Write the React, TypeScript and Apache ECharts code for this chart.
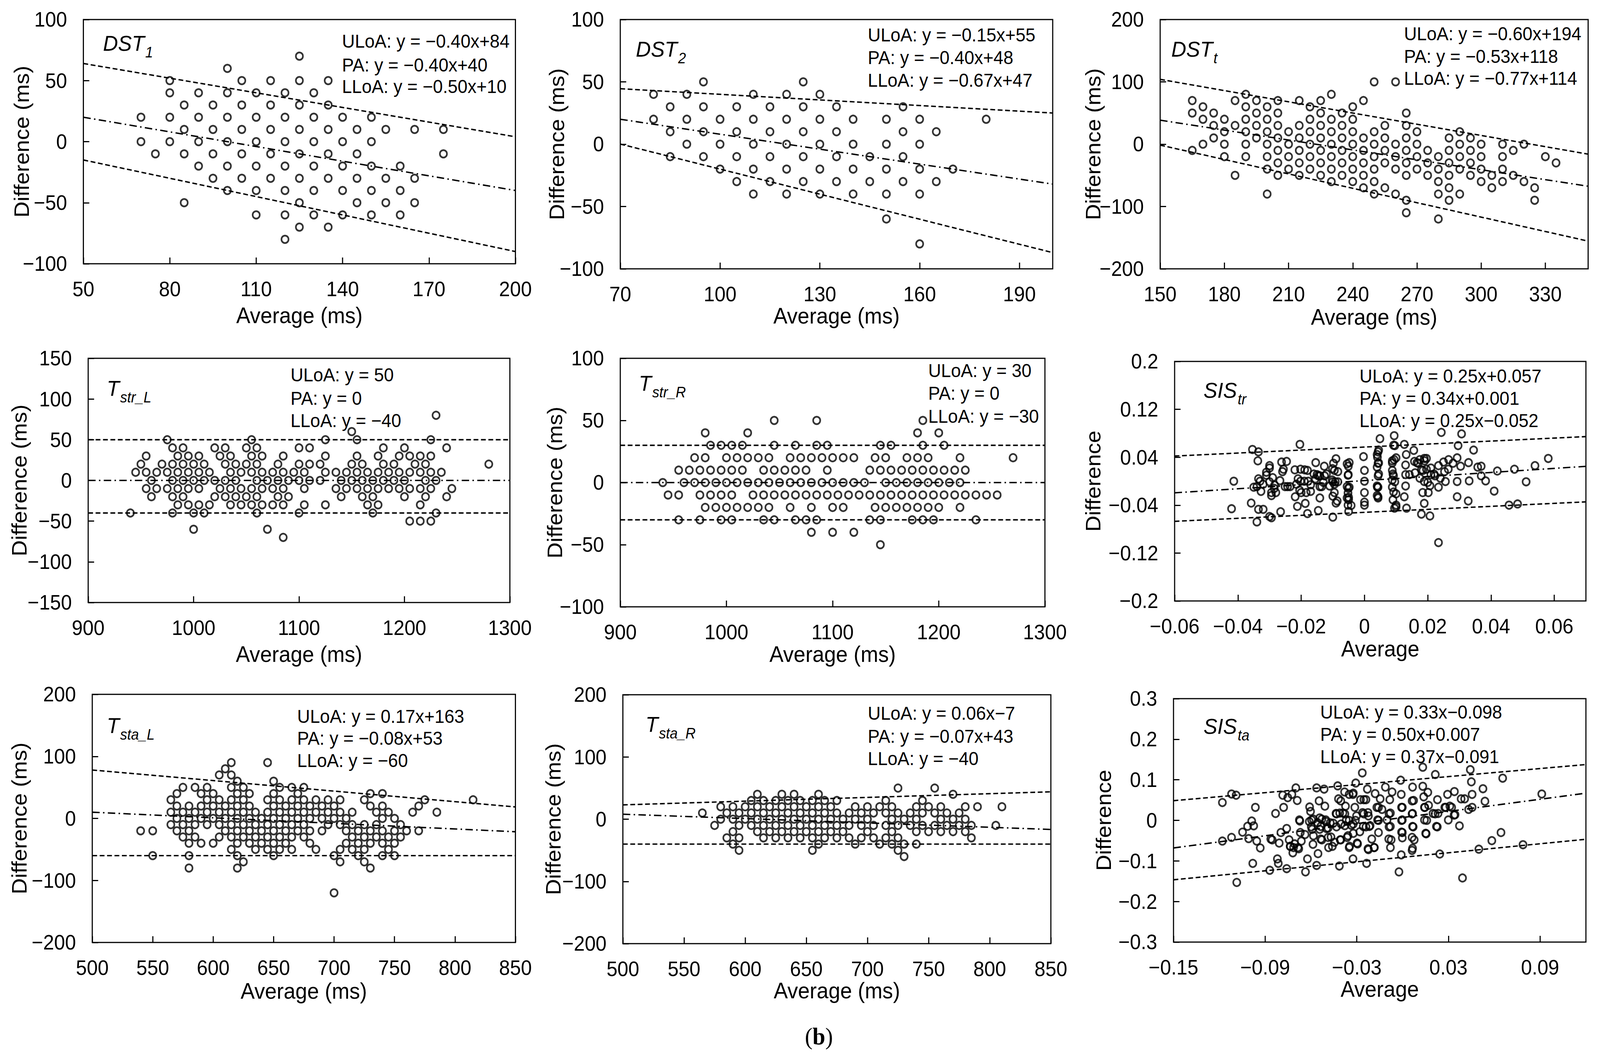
import React, { useEffect, useRef } from "react";
import * as echarts from "echarts";

const W = 4318;
const H = 2700;
const FONT = '"Liberation Sans", Arial, sans-serif';

// ---------- data ----------
type Group = [number, number[]];

// rows: [difference, averages[]]
const dst1Rows: Group[] = [
  [70, [125]], [60, [100]],
  [50, [80, 105, 115, 125, 135]],
  [40, [80, 90, 100, 110, 120, 130]],
  [30, [85, 95, 105, 115, 125, 135]],
  [20, [70, 80, 90, 100, 110, 120, 130, 140, 150]],
  [10, [85, 95, 105, 115, 125, 135, 145, 155, 165, 175]],
  [0, [70, 80, 90, 100, 110, 120, 130, 140, 150]],
  [-10, [75, 85, 95, 105, 115, 125, 135, 145, 175]],
  [-20, [90, 100, 110, 120, 130, 140, 150, 160]],
  [-30, [95, 105, 115, 125, 135, 145, 155, 165]],
  [-40, [100, 110, 120, 130, 140, 150, 160]],
  [-50, [85, 125, 145, 155, 165]],
  [-60, [110, 120, 130, 140, 150, 160]],
  [-70, [125, 135]], [-80, [120]],
];

const dst2Rows: Group[] = [
  [50, [95, 125]],
  [40, [80, 90, 110, 120, 130]],
  [30, [85, 95, 105, 115, 125, 135, 155]],
  [20, [80, 90, 100, 110, 120, 130, 140, 150, 160, 180]],
  [10, [85, 95, 105, 115, 125, 135, 155, 165]],
  [0, [90, 100, 110, 120, 130, 140, 150, 160]],
  [-10, [85, 95, 105, 115, 125, 135, 145, 155]],
  [-20, [100, 110, 120, 130, 140, 150, 160, 170]],
  [-30, [105, 115, 125, 135, 145, 155, 165]],
  [-40, [110, 120, 130, 140, 150, 160]],
  [-60, [150]], [-80, [160]],
];

// cols: [average, differences[]]
const dsttCols: Group[] = [
  [165, [70, 50, -10]], [170, [60, 40, 0]], [175, [50, 30, 10]], [180, [40, 20, 0, -20]],
  [185, [70, 30, -50]], [190, [80, 60, 40, 20, 0, -20]], [195, [70, 50, 30, 10]],
  [200, [60, 40, 20, 0, -20, -40, -80]], [205, [70, 50, 30, 10, -10, -30, -50]],
  [210, [20, 0, -20, -40]], [215, [70, 30, 10, -10, -30, -50]], [220, [60, 40, 20, 0, -20, -40]],
  [225, [70, 50, 30, 10, -10, -30, -50]], [230, [80, 40, 20, 0, -20, -40, -60]],
  [235, [50, 30, 10, -10, -30, -50]], [240, [60, 40, 20, 0, -20, -40, -60]],
  [245, [70, 10, -10, -30, -50, -70]], [250, [100, 20, 0, -20, -40, -60, -80]],
  [255, [30, 10, -10, -30, -70]], [260, [100, 0, -20, -40, -80]],
  [265, [50, 30, 10, -10, -30, -50, -90, -110]], [270, [20, 0, -20, -40]],
  [275, [-10, -30, -50]], [280, [-20, -40, -60, -80, -120]], [285, [10, -10, -30, -50, -70, -90]],
  [290, [20, 0, -20, -40, -80]], [295, [10, -10, -30, -50]], [300, [0, -20, -40, -60]],
  [305, [-50, -70]], [310, [0, -20, -40, -60]], [315, [-10, -50]], [320, [0, -60]],
  [325, [-70, -90]], [330, [-20]], [335, [-30]],
];

const tstrLRows: Group[] = [
  [80, [1230]], [60, [1150]],
  [50, [975, 1055, 1125, 1155, 1225]],
  [40, [980, 990, 1020, 1030, 1050, 1060, 1100, 1110, 1180, 1200, 1240]],
  [30, [955, 985, 995, 1005, 1025, 1035, 1055, 1065, 1085, 1125, 1155, 1175, 1195, 1205, 1215, 1225]],
  [20, [950, 970, 980, 990, 1000, 1010, 1030, 1040, 1050, 1060, 1080, 1100, 1110, 1120, 1150, 1160, 1180, 1190, 1210, 1220, 1280]],
  [10, [945, 955, 965, 975, 985, 995, 1005, 1015, 1035, 1045, 1055, 1065, 1075, 1085, 1095, 1105, 1125, 1135, 1145, 1155, 1165, 1175, 1185, 1195, 1205, 1215, 1225, 1235]],
  [0, [960, 980, 990, 1000, 1010, 1020, 1030, 1040, 1060, 1070, 1080, 1090, 1100, 1110, 1120, 1140, 1150, 1160, 1170, 1180, 1190, 1200, 1220, 1230]],
  [-10, [955, 965, 975, 985, 995, 1005, 1025, 1035, 1045, 1055, 1065, 1075, 1085, 1105, 1135, 1145, 1155, 1165, 1175, 1185, 1195, 1205, 1215, 1225, 1245]],
  [-20, [960, 980, 990, 1020, 1030, 1040, 1050, 1060, 1080, 1090, 1140, 1160, 1170, 1200, 1220, 1240]],
  [-30, [985, 995, 1005, 1015, 1035, 1045, 1055, 1065, 1075, 1085, 1105, 1125, 1165, 1175, 1215]],
  [-40, [940, 980, 1000, 1010, 1060, 1100, 1170, 1230]],
  [-50, [1205, 1215, 1225]], [-60, [1000, 1070]], [-70, [1085]],
];

const tstrRRows: Group[] = [
  [50, [1045, 1085, 1185]],
  [40, [980, 1020, 1180, 1200]],
  [30, [985, 995, 1005, 1015, 1045, 1065, 1085, 1095, 1145, 1155, 1185, 1205]],
  [20, [970, 980, 1000, 1010, 1020, 1030, 1040, 1060, 1070, 1080, 1090, 1100, 1110, 1120, 1140, 1150, 1170, 1180, 1190, 1220, 1270]],
  [10, [955, 965, 975, 985, 995, 1005, 1015, 1035, 1045, 1055, 1065, 1075, 1095, 1135, 1145, 1155, 1165, 1175, 1185, 1195, 1205, 1215, 1225]],
  [0, [940, 960, 970, 980, 990, 1000, 1010, 1020, 1030, 1040, 1050, 1060, 1070, 1080, 1090, 1100, 1110, 1120, 1130, 1150, 1160, 1170, 1180, 1190, 1200, 1210, 1220]],
  [-10, [945, 955, 975, 985, 995, 1005, 1025, 1035, 1045, 1055, 1065, 1075, 1085, 1095, 1105, 1115, 1125, 1135, 1145, 1155, 1165, 1175, 1185, 1195, 1205, 1215, 1225, 1235, 1245, 1255]],
  [-20, [980, 990, 1000, 1010, 1020, 1030, 1040, 1060, 1080, 1100, 1110, 1140, 1150, 1160, 1170, 1180, 1190, 1200, 1220]],
  [-30, [955, 975, 995, 1005, 1035, 1045, 1065, 1075, 1085, 1135, 1145, 1175, 1185, 1195, 1235]],
  [-40, [1080, 1100, 1120]], [-50, [1145]],
];

const tstaLCols: Group[] = [
  [540, [-20]], [550, [-20, -60]], [565, [30, 10, -10]], [570, [40, 20, 0, -20]],
  [575, [50, 10, -10, -30]], [580, [20, 0, -20, -40, -60, -80]], [585, [50, 10, -10, -30]],
  [590, [40, 20, 0, -40]], [595, [50, 30, 10, -10]], [600, [40, 20, 0, -40]],
  [605, [70, 30, 10, -10, -30]], [610, [80, 20, 0, -20]], [615, [90, 70, 50, 30, 10, -10, -30, -50]],
  [620, [60, 40, 20, 0, -20, -40, -60, -80]], [625, [50, 30, 10, -10, -30, -70]],
  [630, [40, 20, 0, -20, -40]], [635, [10, -10, -30, -50]], [640, [0, -20, -40]],
  [645, [90, 30, 10, -10, -30, -50]], [650, [60, 40, 20, 0, -20, -40, -60]],
  [655, [50, 30, 10, -10, -30, -50]], [660, [20, 0, -20, -40]], [665, [50, 30, 10, -10, -30, -50]],
  [670, [40, 20, 0, -20]], [675, [50, 30, 10, -10, -30]], [680, [20, 0, -20, -40]],
  [685, [30, 10, -50]], [690, [20, 0, -20]], [695, [30, 10, -10]], [700, [20, 0, -60, -120]],
  [705, [30, 10, -10, -50, -70]], [710, [0, -20, -40]], [715, [10, -10, -30, -50]],
  [720, [-20, -40, -60]], [725, [30, -10, -30, -50, -70]], [730, [40, 20, -20, -40, -80]],
  [735, [10, -10, -30]], [740, [40, 20, 0, -20, -40, -60]], [745, [10, -30, -50]],
  [750, [0, -20, -40, -60]], [755, [-10, -30]], [760, [-20]], [765, [10]], [770, [20, -20]],
  [775, [30]], [785, [10]], [815, [30]],
];

const tstaRCols: Group[] = [
  [565, [10]], [575, [-10]], [580, [20, 0]], [585, [10, -30]], [590, [20, 0, -20, -40]],
  [595, [10, -10, -30, -50]], [600, [20, 0]], [605, [30, 10, -10]], [610, [40, 20, 0, -20]],
  [615, [30, 10, -10, -30]], [620, [20, 0, -20]], [625, [30, 10, -10, -30]],
  [630, [40, 20, 0, -20]], [635, [30, 10, -10, -30]], [640, [40, 20, 0, -20]],
  [645, [30, 10, -10, -30]], [650, [20, 0, -20]], [655, [30, 10, -10, -30, -50]],
  [660, [40, 20, 0, -20, -40]], [665, [30, 10, -10, -30]], [670, [20, 0, -20]],
  [675, [30, 10, -10, -30]], [680, [0, -20]], [685, [10, -10, -30]], [690, [20, 0, -40]],
  [695, [10, -10, -30]], [700, [20, 0, -20]], [705, [10, -10, -30]], [710, [20, -40]],
  [715, [30, 10, -10, -30]], [720, [20, 0, -20, -40]], [725, [50, 10, -10, -30, -50]],
  [730, [0, -40, -60]], [735, [10, -10]], [740, [20, 0, -20, -40]], [745, [30, 10, -10]],
  [750, [20, -20]], [755, [50, 10, -10]], [760, [20, 0, -20]], [765, [10, -10]],
  [770, [40, 0, -20]], [775, [10, -10]], [780, [20, 0, -20]], [785, [-10, -30]],
  [790, [20]], [805, [-10]], [810, [20]],
];

const sisTrPts: [number, number][] = [
  [-0.0413, 0.0], [-0.042, -0.046], [-0.0354, 0.053], [-0.0335, 0.049], [-0.0337, 0.034], [-0.0358, -0.0365],
  [-0.034, -0.068], [-0.0335, -0.047], [-0.032, -0.047], [-0.035, -0.01], [-0.034, -0.009], [-0.033, 0.0],
  [-0.0327, -0.017], [-0.031, 0.010], [-0.030, 0.026], [-0.030, 0.022], [-0.030, -0.001], [-0.0294, -0.019],
  [-0.0294, -0.024], [-0.030, -0.059], [-0.0294, -0.061], [-0.0284, -0.0065], [-0.028, -0.019], [-0.0267, 0.001],
  [-0.0265, -0.051], [-0.0262, 0.032], [-0.0259, 0.016], [-0.0256, 0.020], [-0.0251, -0.009], [-0.0246, 0.033],
  [-0.0243, -0.009], [-0.0235, -0.009], [-0.0219, -0.026], [-0.0212, -0.042], [-0.0204, 0.0615], [-0.0202, 0.020],
  [-0.0202, 0.0], [-0.020, -0.019], [-0.019, 0.0], [-0.0189, 0.019], [-0.0187, -0.037], [-0.0184, -0.019],
  [-0.018, 0.018], [-0.0178, 0.0], [-0.017, -0.017], [-0.018, -0.054], [-0.0154, 0.031], [-0.015, 0.011],
  [-0.0146, 0.009], [-0.0141, -0.009], [-0.0141, 0.009], [-0.0146, -0.049], [-0.0141, -0.028], [-0.0135, -0.009],
  [-0.0127, 0.025], [-0.0126, 0.009], [-0.0101, 0.021], [-0.0095, 0.018], [-0.009, 0.0375], [-0.0084, 0.016],
  [-0.010, -0.001], [-0.0092, -0.001], [-0.0084, -0.001], [-0.0095, -0.019], [-0.009, -0.0365], [-0.0086, -0.033],
  [-0.010, -0.060], [-0.0055, 0.029], [-0.0051, 0.025], [-0.0051, 0.011], [-0.0055, -0.009], [-0.0051, -0.012],
  [-0.0052, -0.0195], [-0.0055, -0.028], [-0.005, -0.031], [-0.0042, -0.0405], [-0.005, -0.0505], [-0.0003, 0.041],
  [0, 0.018], [0, 0.0], [0, -0.019], [0, -0.035], [0, -0.040], [0.0049, 0.071], [0.0043, 0.049], [0.004, 0.0445],
  [0.0045, 0.0305], [0.004, 0.0235], [0.0043, 0.009], [0.004, -0.008], [0.0043, -0.010], [0.004, -0.024],
  [0.0043, -0.028], [0.0094, 0.076], [0.0096, 0.0595], [0.010, 0.039], [0.0094, 0.036], [0.0088, 0.0305],
  [0.0088, 0.018], [0.0088, 0.002], [0.0096, -0.001], [0.0092, -0.018], [0.010, -0.021], [0.010, -0.040],
  [0.010, -0.043], [0.0126, 0.0615], [0.0132, 0.0445], [0.013, 0.027], [0.013, 0.011], [0.013, -0.008],
  [0.0126, -0.026], [0.0133, -0.045], [0.0156, 0.0515], [0.0142, 0.011], [0.0158, 0.033], [0.0166, 0.031],
  [0.0175, 0.036], [0.018, 0.019], [0.0189, 0.038], [0.0196, 0.038], [0.0185, 0.018], [0.0196, 0.020],
  [0.0189, -0.0005], [0.0184, -0.019], [0.0189, -0.037], [0.018, -0.055], [0.0207, -0.058], [0.0202, -0.019],
  [0.0207, -0.0075], [0.021, 0.011], [0.0223, 0.009], [0.0234, 0.026], [0.0234, -0.010], [0.0243, 0.0815],
  [0.025, 0.032], [0.0253, 0.016], [0.0256, -0.0005], [0.0266, 0.036], [0.0293, 0.039], [0.0296, 0.0595],
  [0.0293, -0.0005], [0.0293, -0.026], [0.0307, 0.079], [0.0304, 0.025], [0.0329, 0.031], [0.0331, 0.0005],
  [0.0328, -0.033], [0.0345, 0.052], [0.0358, 0.0235], [0.0369, 0.025], [0.0369, 0.009], [0.0383, 0.0005],
  [0.041, -0.0165], [0.042, 0.017], [0.0457, -0.040], [0.0474, 0.020], [0.0484, -0.038], [0.0511, -0.001],
  [0.0539, 0.026], [0.0581, 0.038], [0.0234, -0.1025],
  [-0.0048, 0.031], [-0.0052, 0.010], [-0.0048, -0.010], [-0.005, -0.027], [-0.0052, -0.040],
  [0.0045, 0.052], [0.0041, 0.040], [0.0043, 0.030], [0.0045, 0.012], [0.0041, -0.010], [0.0043, -0.026],
  [0.0092, 0.060], [0.0088, 0.034], [0.0090, 0.012], [0.0092, 0.009], [0.0088, -0.010], [0.009, -0.031], [0.0095, -0.045],
  [-0.0098, 0.030], [-0.0102, 0.002], [-0.0095, -0.005], [-0.010, -0.025],
  [-0.022, 0.019], [-0.021, 0.004], [-0.0215, -0.005], [-0.0205, -0.015], [-0.016, 0.012], [-0.0155, 0.004],
  [-0.017, -0.006], [-0.012, 0.012], [-0.013, -0.002], [-0.011, -0.008],
  [0.017, 0.030], [0.019, 0.034], [0.021, 0.022], [0.022, 0.012], [0.016, 0.014], [0.0175, 0.005], [0.02, -0.002],
  [0.024, 0.005], [0.0265, 0.02], [0.028, 0.03],
  [-0.031, 0.015], [-0.029, 0.006], [-0.032, -0.005], [-0.0285, -0.012], [-0.0335, 0.004],
];

const sisTaPts: [number, number][] = [
  [-0.118, 0.044], [-0.112, 0.065], [-0.109, 0.062], [-0.118, -0.051], [-0.112, -0.042], [-0.1086, -0.153],
  [-0.1048, -0.029], [-0.1015, -0.0146], [-0.1008, -0.045], [-0.0988, -0.0016], [-0.0981, -0.106], [-0.0975, -0.0135],
  [-0.0964, 0.032], [-0.0955, -0.051], [-0.0932, -0.068], [-0.087, -0.123], [-0.0863, -0.046], [-0.0854, -0.048],
  [-0.0832, 0.017], [-0.082, -0.095], [-0.0814, -0.106], [-0.0808, -0.056], [-0.0797, -0.030], [-0.0785, 0.062],
  [-0.0779, 0.032], [-0.0759, -0.119], [-0.0759, -0.020], [-0.0752, 0.056], [-0.0743, -0.048], [-0.0736, -0.064],
  [-0.0725, 0.064], [-0.0719, -0.080], [-0.0714, -0.067], [-0.0699, 0.080], [-0.069, 0.049], [-0.0685, -0.067],
  [-0.0676, 0.001], [-0.067, -0.030], [-0.0663, -0.051], [-0.0636, -0.127], [-0.0623, -0.095], [-0.0609, 0.033],
  [-0.0603, 0.022], [-0.0596, 0.001], [-0.0592, -0.022], [-0.0587, -0.059], [-0.0563, 0.080], [-0.0563, -0.111],
  [-0.0554, -0.082], [-0.0547, 0.048], [-0.0543, 0.006], [-0.0536, -0.015], [-0.0536, -0.046], [-0.0514, 0.077],
  [-0.0509, 0.035], [-0.0503, 0.001], [-0.0498, -0.020], [-0.0485, -0.067], [-0.0469, -0.041], [-0.0454, -0.007],
  [-0.0436, 0.017], [-0.0425, 0.085], [-0.042, 0.053], [-0.0414, -0.1125], [-0.0409, -0.048], [-0.0403, -0.009],
  [-0.0391, 0.018], [-0.038, 0.070], [-0.0374, 0.035], [-0.0369, 0.001], [-0.0358, -0.038], [-0.0347, -0.064],
  [-0.0336, -0.012], [-0.0325, 0.064], [-0.0325, -0.095], [-0.0313, 0.032], [-0.0307, 0.092], [-0.0302, 0.011],
  [-0.0298, -0.056], [-0.028, -0.028], [-0.0276, 0.051], [-0.0264, 0.117], [-0.0262, 0.019], [-0.0258, -0.015],
  [-0.024, 0.051], [-0.0236, -0.106], [-0.0231, 0.077], [-0.0224, 0.011], [-0.0224, -0.072], [-0.0218, -0.015],
  [-0.0202, -0.046], [-0.0187, -0.067], [-0.018, 0.066], [-0.0169, 0.032], [-0.0164, 0.001], [-0.0158, -0.030],
  [-0.0147, 0.053], [-0.0135, 0.027], [-0.0113, 0.082], [-0.0102, 0.001], [-0.0091, -0.046], [-0.0084, 0.051],
  [-0.008, -0.015], [-0.008, -0.067], [-0.0069, 0.070], [-0.008, 0.018], [-0.0024, -0.127], [-0.0013, 0.099],
  [-0.0009, 0.064], [-0.0002, 0.032], [-0.0002, 0.001], [-0.0002, -0.030], [-0.0009, -0.085], [-0.0002, -0.043],
  [0.0065, 0.082], [0.0072, 0.049], [0.0065, 0.017], [0.0065, -0.015], [0.0065, -0.069], [0.0076, -0.048],
  [0.0132, 0.131], [0.0132, 0.084], [0.0138, 0.058], [0.0143, 0.032], [0.0143, 0.001], [0.0154, -0.033],
  [0.0165, 0.069], [0.017, 0.037], [0.0199, 0.017], [0.0214, 0.113], [0.0221, -0.015], [0.0228, 0.051],
  [0.0232, 0.017], [0.0243, -0.083], [0.0276, 0.032], [0.0294, 0.064], [0.0299, 0.001], [0.0321, 0.032],
  [0.0339, 0.071], [0.0343, 0.014], [0.0372, -0.0135], [0.0383, 0.053], [0.0392, -0.142], [0.0406, 0.053],
  [0.0432, 0.027], [0.0443, 0.125], [0.045, 0.095], [0.0455, 0.064], [0.0455, 0.032], [0.0499, -0.071],
  [0.0526, 0.078], [0.0539, 0.047], [0.0584, -0.050], [0.0644, -0.030], [0.0655, 0.104], [0.0788, -0.060],
  [0.0911, 0.065],
  [-0.0673, -0.0015], [-0.0611, -0.003], [-0.0584, 0.003], [-0.0556, -0.006], [-0.0529, 0.003], [-0.0501, -0.003],
  [-0.0474, -0.006], [-0.0433, 0.016], [-0.0412, 0.018], [-0.0378, 0.016], [-0.035, 0.0], [-0.0309, 0.0],
  [-0.0254, 0.016], [-0.0227, 0.019], [-0.0158, 0.0], [-0.0598, -0.016], [-0.0543, -0.022], [-0.0488, -0.019],
  [-0.0433, -0.016], [-0.0378, -0.013], [-0.0323, -0.009], [-0.024, -0.016], [-0.0213, -0.013], [-0.0639, -0.035],
  [-0.0584, -0.038], [-0.0529, -0.048], [-0.0488, -0.042], [-0.0446, -0.054], [-0.0405, -0.048], [-0.0364, -0.042],
  [-0.0323, -0.032], [-0.0735, -0.064], [-0.0707, -0.058], [-0.068, -0.070], [-0.046, -0.064], [-0.035, -0.067],
  [-0.0295, -0.058], [-0.0227, -0.070], [-0.0185, -0.067], [-0.0405, 0.048], [-0.035, 0.064], [-0.0323, 0.067],
  [-0.0254, 0.051], [-0.0158, 0.032], [-0.0089, 0.016], [-0.0089, -0.016], [-0.0075, -0.048], [-0.0007, 0.032],
  [-0.0007, 0.0], [-0.0007, -0.029], [0.0062, 0.048], [0.0062, 0.016], [0.0069, -0.016], [0.0062, -0.042],
  [0.0062, -0.074], [0.0145, 0.032], [0.0158, 0.0], [0.0151, -0.032], [0.0213, 0.016], [0.0227, -0.016],
  [0.0282, 0.032], [0.0309, 0.035], [0.0337, 0.013],
];

// panel titles: [main, subscript]
const titleMain = ["DST", "DST", "DST", "T", "T", "SIS", "T", "T", "SIS"];
const titleSub = ["1", "2", "t", "str_L", "str_R", "tr", "sta_L", "sta_R", "ta"];

const eqTexts: string[][] = [
  ["ULoA: y = \u22120.40x+84", "PA: y = \u22120.40x+40", "LLoA: y = \u22120.50x+10"],
  ["ULoA: y = \u22120.15x+55", "PA: y = \u22120.40x+48", "LLoA: y = \u22120.67x+47"],
  ["ULoA: y = \u22120.60x+194", "PA: y = \u22120.53x+118", "LLoA: y = \u22120.77x+114"],
  ["ULoA: y = 50", "PA: y = 0", "LLoA: y = \u221240"],
  ["ULoA: y = 30", "PA: y = 0", "LLoA: y = \u221230"],
  ["ULoA: y = 0.25x+0.057", "PA: y = 0.34x+0.001", "LLoA: y = 0.25x\u22120.052"],
  ["ULoA: y = 0.17x+163", "PA: y = \u22120.08x+53", "LLoA: y = \u221260"],
  ["ULoA: y = 0.06x\u22127", "PA: y = \u22120.07x+43", "LLoA: y = \u221240"],
  ["ULoA: y = 0.33x\u22120.098", "PA: y = 0.50x+0.007", "LLoA: y = 0.37x\u22120.091"],
];

// drawn lines [slope, intercept] for ULoA, PA, LLoA (as plotted)
const lineParams: number[][][] = [
  [[-0.40, 84], [-0.40, 40], [-0.50, 10]],
  [[-0.15, 55], [-0.40, 48], [-0.67, 47]],
  [[-0.60, 194], [-0.53, 118], [-0.77, 114]],
  [[0, 50], [0, 0], [0, -40]],
  [[0, 30], [0, 0], [0, -30]],
  [[0.25, 0.057], [0.34, 0.001], [0.25, -0.052]],
  [[-0.17, 163], [-0.09, 55], [0, -60]],
  [[0.06, -7], [-0.07, 43], [0, -40]],
  [[0.33, 0.098], [0.50, 0.007], [0.37, -0.091]],
];

const xRanges = [[50, 200], [70, 200], [150, 350], [900, 1300], [900, 1300], [-0.06, 0.07], [500, 850], [500, 850], [-0.15, 0.12]];
const yRanges = [[-100, 100], [-100, 100], [-200, 200], [-150, 150], [-100, 100], [-0.2, 0.2], [-200, 200], [-200, 200], [-0.3, 0.3]];
const xTicks = [
  [50, 80, 110, 140, 170, 200], [70, 100, 130, 160, 190], [150, 180, 210, 240, 270, 300, 330],
  [900, 1000, 1100, 1200, 1300], [900, 1000, 1100, 1200, 1300], [-0.06, -0.04, -0.02, 0, 0.02, 0.04, 0.06],
  [500, 550, 600, 650, 700, 750, 800, 850], [500, 550, 600, 650, 700, 750, 800, 850], [-0.15, -0.09, -0.03, 0.03, 0.09],
];
const yTicks = [
  [-100, -50, 0, 50, 100], [-100, -50, 0, 50, 100], [-200, -100, 0, 100, 200],
  [-150, -100, -50, 0, 50, 100, 150], [-100, -50, 0, 50, 100], [-0.2, -0.12, -0.04, 0.04, 0.12, 0.2],
  [-200, -100, 0, 100, 200], [-200, -100, 0, 100, 200], [-0.3, -0.2, -0.1, 0, 0.1, 0.2, 0.3],
];
const xNames = ["Average (ms)", "Average (ms)", "Average (ms)", "Average (ms)", "Average (ms)", "Average", "Average (ms)", "Average (ms)", "Average"];
const yNames = ["Difference (ms)", "Difference (ms)", "Difference (ms)", "Difference (ms)", "Difference (ms)", "Difference", "Difference (ms)", "Difference (ms)", "Difference"];

// ---------- layout ----------
const boxes = [
  [225, 50, 1166, 625], [1674, 50, 1167, 638], [3131, 50, 1155, 638],
  [238, 917, 1138, 625], [1674, 917, 1146, 636], [3170, 925, 1110, 613],
  [249, 1777, 1142, 635], [1681, 1778, 1155, 637], [3167, 1788, 1113, 623],
];
const yNameGap = [138, 143, 152, 157, 148, 191, 168, 159, 160];
const xNameGap = [104, 92, 95, 104, 93, 94, 96, 91, 82];
const eqPos = [
  [923, 106, 167, 222], [2342, 90, 148, 206], [3789, 87, 145, 201],
  [784, 960, 1020, 1077], [2505, 949, 1007, 1066], [3669, 963, 1020, 1077],
  [802, 1834, 1890, 1947], [2342, 1826, 1885, 1942], [3563, 1823, 1880, 1937],
];
const titlePos = [
  [278, 115], [1716, 130], [3161, 130], [288, 998], [1724, 985], [3248, 1003], [288, 1861], [1742, 1858], [3248, 1863],
];

const fromRows = (rows: Group[]) => rows.flatMap(([y, xs]) => xs.map((x) => [x, y]));
const fromCols = (cols: Group[]) => cols.flatMap(([x, ys]) => ys.map((y) => [x, y]));

const panelData = [
  fromRows(dst1Rows), fromRows(dst2Rows), fromCols(dsttCols),
  fromRows(tstrLRows), fromRows(tstrRRows), sisTrPts,
  fromCols(tstaLCols), fromCols(tstaRCols), sisTaPts,
];

const fmt = (v: number) => String(parseFloat(Number(v).toFixed(6))).replace("-", "\u2212");

function buildOption() {
  const grid: any[] = [];
  const xAxis: any[] = [];
  const yAxis: any[] = [];
  const series: any[] = [];
  const graphic: any[] = [];
  const dashTypes: any[] = [[13, 7], [20, 9, 4, 9], [13, 7]];

  for (let i = 0; i < 9; i++) {
    const [l, t, w, h] = boxes[i];
    grid.push({ left: l, top: t, width: w, height: h, show: true, borderColor: "#000", borderWidth: 3, backgroundColor: "rgba(0,0,0,0)" });
    xAxis.push({
      gridIndex: i, type: "value", min: xRanges[i][0], max: xRanges[i][1],
      axisLine: { show: false, onZero: false },
      splitLine: { show: false },
      axisTick: { show: true, inside: true, length: 16, lineStyle: { color: "#000", width: 3 }, customValues: xTicks[i] },
      axisLabel: { show: true, customValues: xTicks[i], formatter: fmt, fontSize: 53, color: "#000", fontFamily: FONT, margin: 38 },
      name: xNames[i], nameLocation: "middle", nameGap: xNameGap[i],
      nameTextStyle: { fontSize: 57, fontFamily: FONT, color: "#000" },
    });
    yAxis.push({
      gridIndex: i, type: "value", min: yRanges[i][0], max: yRanges[i][1],
      axisLine: { show: false, onZero: false },
      splitLine: { show: false },
      axisTick: { show: true, inside: true, length: 16, lineStyle: { color: "#000", width: 3 }, customValues: yTicks[i] },
      axisLabel: { show: true, customValues: yTicks[i], formatter: fmt, fontSize: 53, color: "#000", fontFamily: FONT, margin: 44 },
      name: yNames[i], nameLocation: "middle", nameGap: yNameGap[i], nameMoveOverlap: false,
      nameTextStyle: { fontSize: 57, fontFamily: FONT, color: "#000" },
    });
    series.push({
      type: "scatter", xAxisIndex: i, yAxisIndex: i, data: panelData[i], symbol: "circle", symbolSize: 19,
      itemStyle: { color: "rgba(0,0,0,0)", borderColor: "#000", borderWidth: 4.5 }, silent: true, z: 3,
    });
    lineParams[i].forEach(([a, b], k) => {
      const x0 = xRanges[i][0];
      const x1 = xRanges[i][1];
      series.push({
        type: "line", xAxisIndex: i, yAxisIndex: i, symbol: "none", silent: true, z: 2,
        data: [[x0, a * x0 + b], [x1, a * x1 + b]],
        lineStyle: { color: "#000", width: 3.6, type: dashTypes[k] },
      });
    });
    const [ex, ...eys] = eqPos[i];
    eqTexts[i].forEach((txt, k) => {
      graphic.push({
        type: "text", x: ex, y: eys[k], silent: true,
        style: { text: txt, fontSize: 48, fontFamily: FONT, fill: "#000", align: "left", verticalAlign: "middle" },
      });
    });
    const [tx, ty] = titlePos[i];
    graphic.push({
      type: "text", x: tx, y: ty - 32, silent: true,
      style: {
        text: `{m|${titleMain[i]}}{s|${titleSub[i]}}`, align: "left", verticalAlign: "top",
        rich: {
          m: { fontSize: 56, fontStyle: "italic", fontFamily: FONT, fill: "#000", lineHeight: 62, verticalAlign: "top" },
          s: { fontSize: 38, fontStyle: "italic", fontFamily: FONT, fill: "#000", lineHeight: 40, verticalAlign: "top", padding: [32, 0, 0, 2] },
        },
      },
    });
  }
  graphic.push({
    type: "text", x: 2210, y: 2652, silent: true,
    style: {
      text: "{n|(}{b|b}{n|)}", align: "center", verticalAlign: "middle",
      rich: {
        n: { fontSize: 62, fontFamily: '"Liberation Serif", "Times New Roman", serif', fill: "#000" },
        b: { fontSize: 62, fontWeight: "bold", fontFamily: '"Liberation Serif", "Times New Roman", serif', fill: "#000" },
      },
    },
  });

  return {
    animation: false,
    backgroundColor: "#fff",
    textStyle: { fontFamily: FONT },
    grid, xAxis, yAxis, series, graphic,
  };
}

export default function App() {
  const outer = useRef<HTMLDivElement>(null);
  const ref = useRef<HTMLDivElement>(null);
  useEffect(() => {
    if (!ref.current || !outer.current) return;
    document.body.style.margin = "0";
    document.body.style.overflow = "hidden";
    document.documentElement.style.overflow = "hidden";
    const vw = window.innerWidth > 0 ? window.innerWidth : W;
    const vh = window.innerHeight > 0 ? window.innerHeight : H;
    const kx = vw / W;
    const ky = vh / H;
    outer.current.style.width = `${W * kx}px`;
    outer.current.style.height = `${H * ky}px`;
    ref.current.style.transform = `scale(${kx}, ${ky})`;
    const chart = echarts.init(ref.current, null, { renderer: "svg", width: W, height: H });
    chart.setOption(buildOption() as any);
    return () => chart.dispose();
  }, []);
  return (
    <div
      ref={outer}
      style={{ position: "absolute", left: 0, top: 0, width: W, height: H, overflow: "hidden", background: "#fff" }}
    >
      <div ref={ref} style={{ width: W, height: H, transformOrigin: "0 0" }} />
    </div>
  );
}
